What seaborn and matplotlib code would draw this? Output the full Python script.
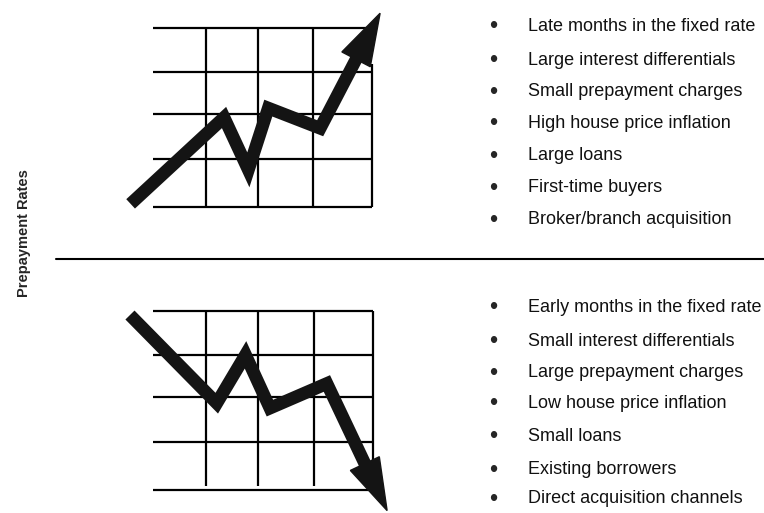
import matplotlib
matplotlib.use("Agg")
import matplotlib.pyplot as plt
from matplotlib.patches import Polygon
import seaborn as sns
import pandas as pd
import numpy as np

sns.set_theme(style="white")
plt.rcParams["font.family"] = ["Liberation Sans", "DejaVu Sans"]

# ---------------------------------------------------------------------------
# Data (grid units: each chart grid spans 0..4 both ways)
# ---------------------------------------------------------------------------
up_x = [-0.47, 1.26, 1.71, 2.08, 3.04, 4.15]
up_y = [0.07, 2.00, 0.83, 2.21, 1.76, 4.33]

down_x = [-0.48, 1.12, 1.65, 2.10, 3.15, 4.26]
down_y = [3.91, 1.94, 3.02, 1.83, 2.38, -0.46]

grid_cols = [0.93, 1.88, 2.91]
grid_rows = [0, 1.07, 2.08, 3.02, 4]

up_factors = [
    "Late months in the fixed rate",
    "Large interest differentials",
    "Small prepayment charges",
    "High house price inflation",
    "Large loans",
    "First-time buyers",
    "Broker/branch acquisition",
]
down_factors = [
    "Early months in the fixed rate",
    "Small interest differentials",
    "Large prepayment charges",
    "Low house price inflation",
    "Small loans",
    "Existing borrowers",
    "Direct acquisition channels",
]
y_label = "Prepayment Rates"

# ---------------------------------------------------------------------------
W, H = 764, 513
fig = plt.figure(figsize=(W / 100, H / 100), dpi=100)

XLIM = (-1.0, 5.0)
YLIM = (-0.6, 4.6)
ARROW = "#141414"


def panel(left, right, top, bottom):
    # place an axes so that grid 0..4 lands on the given pixel box
    ppx = (right - left) / 4
    ppy = (bottom - top) / 4
    ax_left = left + XLIM[0] * ppx
    ax_w = (XLIM[1] - XLIM[0]) * ppx
    ax_bottom = bottom - YLIM[0] * ppy
    ax_h = (YLIM[1] - YLIM[0]) * ppy
    ax = fig.add_axes([ax_left / W, (H - ax_bottom) / H, ax_w / W, ax_h / H])
    ax.set_xlim(*XLIM)
    ax.set_ylim(*YLIM)
    ax.axis("off")
    ax.patch.set_alpha(0)
    return ax


def draw_arrow(ax, xs, ys, head_len=52, head_w=32):
    pts = ax.transData.transform(np.column_stack([xs, ys]))
    tip, prev = pts[-1], pts[-2]
    d = (tip - prev) / np.linalg.norm(tip - prev)
    n = np.array([-d[1], d[0]])
    base = tip - d * head_len
    shaft = np.vstack([pts[:-1], base + d * 4])
    shaft = ax.transData.inverted().transform(shaft)
    df = pd.DataFrame({"x": shaft[:, 0], "y": shaft[:, 1]})
    sns.lineplot(data=df, x="x", y="y", sort=False, estimator=None, ax=ax,
                 color=ARROW, linewidth=9.2, solid_joinstyle="miter",
                 solid_capstyle="butt", clip_on=False, zorder=3)
    head = np.vstack([tip, base + n * head_w / 2, base - n * head_w / 2])
    head = ax.transData.inverted().transform(head)
    ax.add_patch(Polygon(head, closed=True, color=ARROW, clip_on=False, zorder=4))
    ax.set_xlabel("")
    ax.set_ylabel("")


# Upper chart: rising rates
ax1 = panel(156, 372, 28, 207)
ax1.hlines(grid_rows, -0.05, 4, color="black", lw=1.6)
ax1.vlines(grid_cols, 0, 4, color="black", lw=1.6)
ax1.vlines(4, 0, 3.2, color="black", lw=1.6)
draw_arrow(ax1, up_x, up_y)

# Lower chart: falling rates
ax2 = panel(156, 373, 311, 490)
ax2.hlines(grid_rows, -0.05, 4, color="black", lw=1.6)
ax2.vlines(grid_cols, 0.1, 4, color="black", lw=1.6)
ax2.vlines(4, 0.3, 4, color="black", lw=1.6)
draw_arrow(ax2, down_x, down_y)

# Divider line
fig.add_artist(plt.Line2D([56 / W, 1.0], [1 - 258.7 / H, 1 - 258.7 / H],
                          color="black", lw=1.5))

# Axis label
fig.text(24 / W, 1 - 233 / H, y_label, rotation=90, ha="center", va="center",
         fontsize=10.5, fontweight="bold")

# Bullet lists (text baselines in pixels from the top)
up_rows = [31, 65, 96, 127.5, 160.5, 192.3, 224]
down_rows = [311.7, 345.5, 377.3, 407.5, 440.7, 474, 503.3]
for rows, labels in [(up_rows, up_factors), (down_rows, down_factors)]:
    for yp, lab in zip(rows, labels):
        fig.text(493 / W, 1 - (yp + 2.5) / H, "\u2022", ha="center",
                 va="baseline", fontsize=17)
        fig.text(528 / W, 1 - yp / H, lab, ha="left", va="baseline",
                 fontsize=13, color="#111111")

fig.savefig("out.png", dpi=100)
